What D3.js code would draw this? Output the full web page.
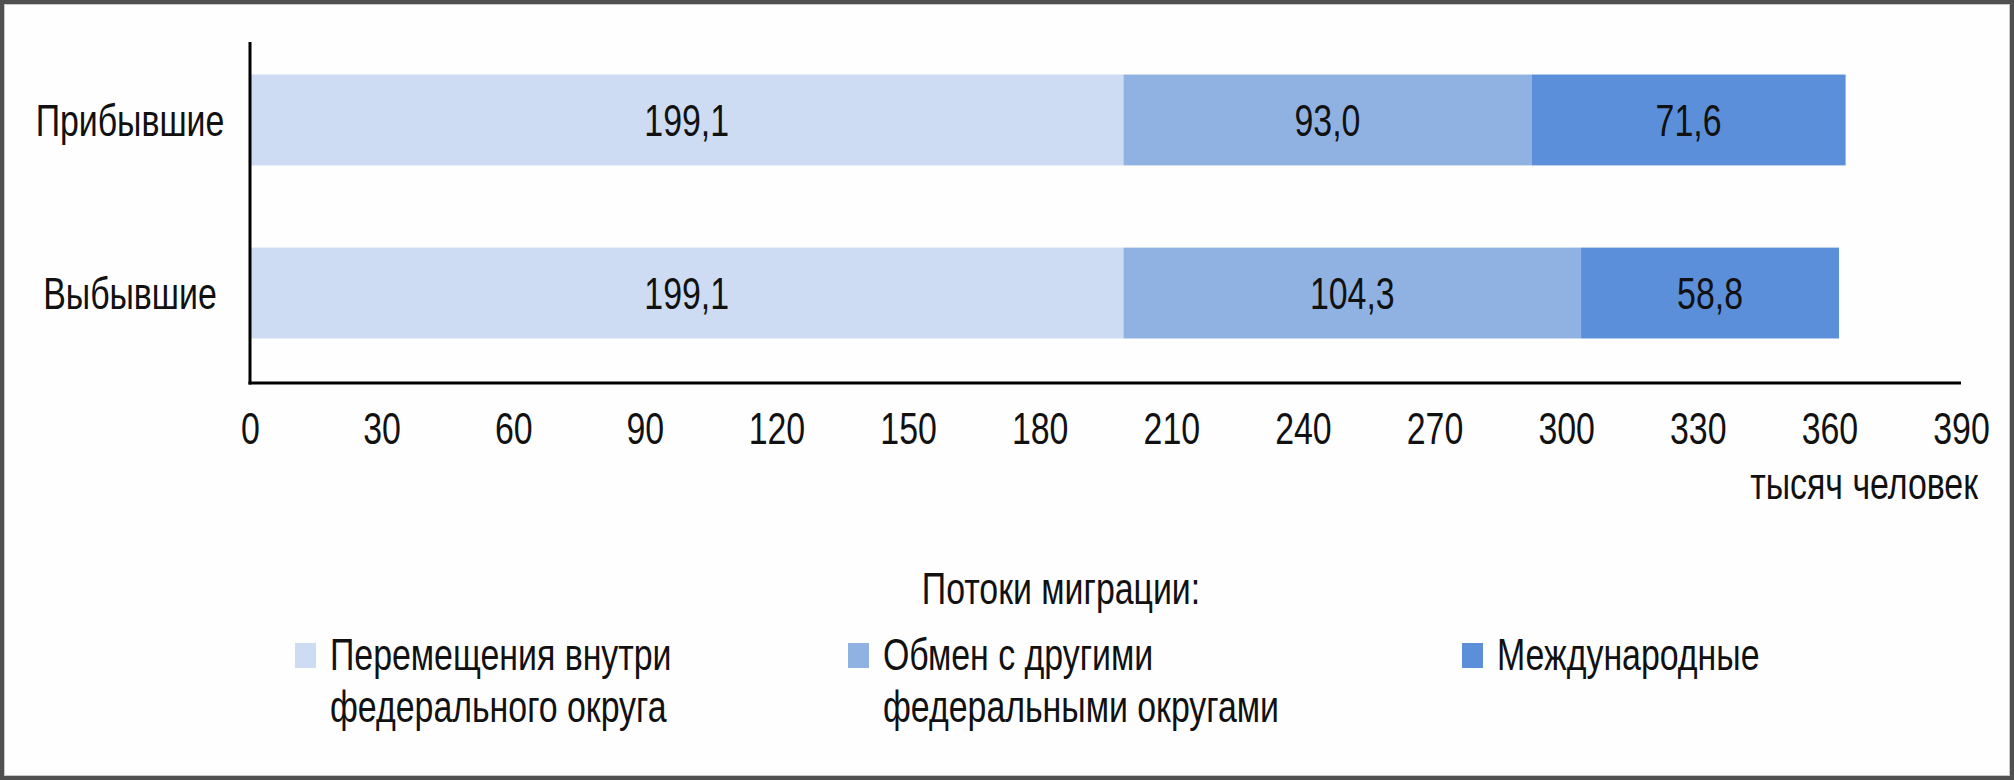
<!DOCTYPE html>
<html>
<head>
<meta charset="utf-8">
<script src="https://cdn.jsdelivr.net/npm/d3@7"></script>
<style>
  html, body { margin: 0; padding: 0; background: #fff; }
  svg text { font-family: "Liberation Sans", Arial, sans-serif; fill: #111; }
</style>
</head>
<body>
<script>
// Data
var categories  = ['Прибывшие', 'Выбывшие'];
var seriesNames = ['Перемещения внутри\nфедерального округа', 'Обмен с другими\nфедеральными округами', 'Международные'];
var withinDistrict = [199.1, 199.1];
var otherDistricts = [93.0, 104.3];
var international  = [71.6, 58.8];
var tickValues = [0, 30, 60, 90, 120, 150, 180, 210, 240, 270, 300, 330, 360, 390];
var colors = ['#cddcf3', '#90b2e3', '#5b8fda'];

var width  = 2014,
    height = 780,
    fontSize = 44,
    squeeze = 0.77;   // narrow font look

// Scales
var xScale = d3.scaleLinear().domain([0, 390]).range([250, 1961]);
var yScale = d3.scaleBand().domain(categories).range([33, 380]).paddingInner(0.475).paddingOuter(0.24);

// Stack rows
var rows = categories.map(function(c, i) {
    return { cat: c, s0: withinDistrict[i], s1: otherDistricts[i], s2: international[i] };
});
var stack = d3.stack().keys(['s0', 's1', 's2']);
var series = stack(rows);

var fmt = function(v) { return d3.format('.1f')(v).replace('.', ','); };

// Create svg
var svg = d3.select('body').append('svg')
    .attr('width', width)
    .attr('height', height);

// Frame
svg.append('rect')
    .attr('x', 0).attr('y', 0)
    .attr('width', width).attr('height', height)
    .style('fill', '#fefefe');
svg.append('rect')
    .attr('x', 2).attr('y', 2)
    .attr('width', width - 4).attr('height', height - 4)
    .style('fill', 'none')
    .style('stroke', '#505050')
    .style('stroke-width', 4);
svg.append('rect')
    .attr('x', 4.5).attr('y', 4.5)
    .attr('width', width - 9).attr('height', height - 9)
    .style('fill', 'none')
    .style('stroke', '#c8c8c8')
    .style('stroke-width', 1);

// Narrow text helper
function label(sel, x, y, anchor, txt) {
    return sel.append('text')
        .attr('transform', 'translate(' + x + ',' + y + ') scale(' + squeeze + ',1)')
        .attr('text-anchor', anchor)
        .style('font-size', fontSize + 'px')
        .text(txt);
}

// Bars
var layer = svg.selectAll('.layer').data(series)
    .enter().append('g')
    .attr('class', 'layer')
    .style('fill', function(d, i) { return colors[i]; });

layer.selectAll('rect').data(function(d) { return d; })
    .enter().append('rect')
    .attr('x', function(d) { return xScale(d[0]); })
    .attr('y', function(d) { return yScale(d.data.cat); })
    .attr('width', function(d) { return xScale(d[1]) - xScale(d[0]); })
    .attr('height', yScale.bandwidth());

// Value labels
series.forEach(function(s) {
    s.forEach(function(d) {
        var cx = (xScale(d[0]) + xScale(d[1])) / 2,
            cy = yScale(d.data.cat) + yScale.bandwidth() / 2 + fontSize * 0.36;
        label(svg, cx, cy, 'middle', fmt(d[1] - d[0]));
    });
});

// Category labels
categories.forEach(function(c) {
    label(svg, 130, yScale(c) + yScale.bandwidth() / 2 + fontSize * 0.36, 'middle', c);
});

// X axis
var xAxis = svg.append('g')
    .attr('transform', 'translate(0,383)')
    .call(d3.axisBottom(xScale).tickValues(tickValues).tickSize(0).tickPadding(0).tickFormat(d3.format('d')));
xAxis.select('.domain').remove();
xAxis.selectAll('.tick text').remove();
xAxis.selectAll('.tick').each(function(d) {
    label(d3.select(this), 0, 61, 'middle', d);
});

// Axis lines
svg.append('line')
    .attr('x1', xScale(0)).attr('x2', xScale(0))
    .attr('y1', 42).attr('y2', 384.5)
    .style('stroke', '#000').style('stroke-width', 3);
svg.append('line')
    .attr('x1', xScale(0) - 1.5).attr('x2', xScale(390))
    .attr('y1', 383).attr('y2', 383)
    .style('stroke', '#000').style('stroke-width', 3);

// Units
label(svg, 1978, 499, 'end', 'тысяч человек');

// Legend
label(svg, 1061, 604, 'middle', 'Потоки миграции:');
var legendX = [295, 848, 1462];
seriesNames.forEach(function(name, i) {
    svg.append('rect')
        .attr('x', legendX[i]).attr('y', 643)
        .attr('width', 21).attr('height', 25)
        .style('fill', colors[i]);
    name.split('\n').forEach(function(line, j) {
        label(svg, legendX[i] + 35, 670 + j * 52, 'start', line);
    });
});
</script>
</body>
</html>
